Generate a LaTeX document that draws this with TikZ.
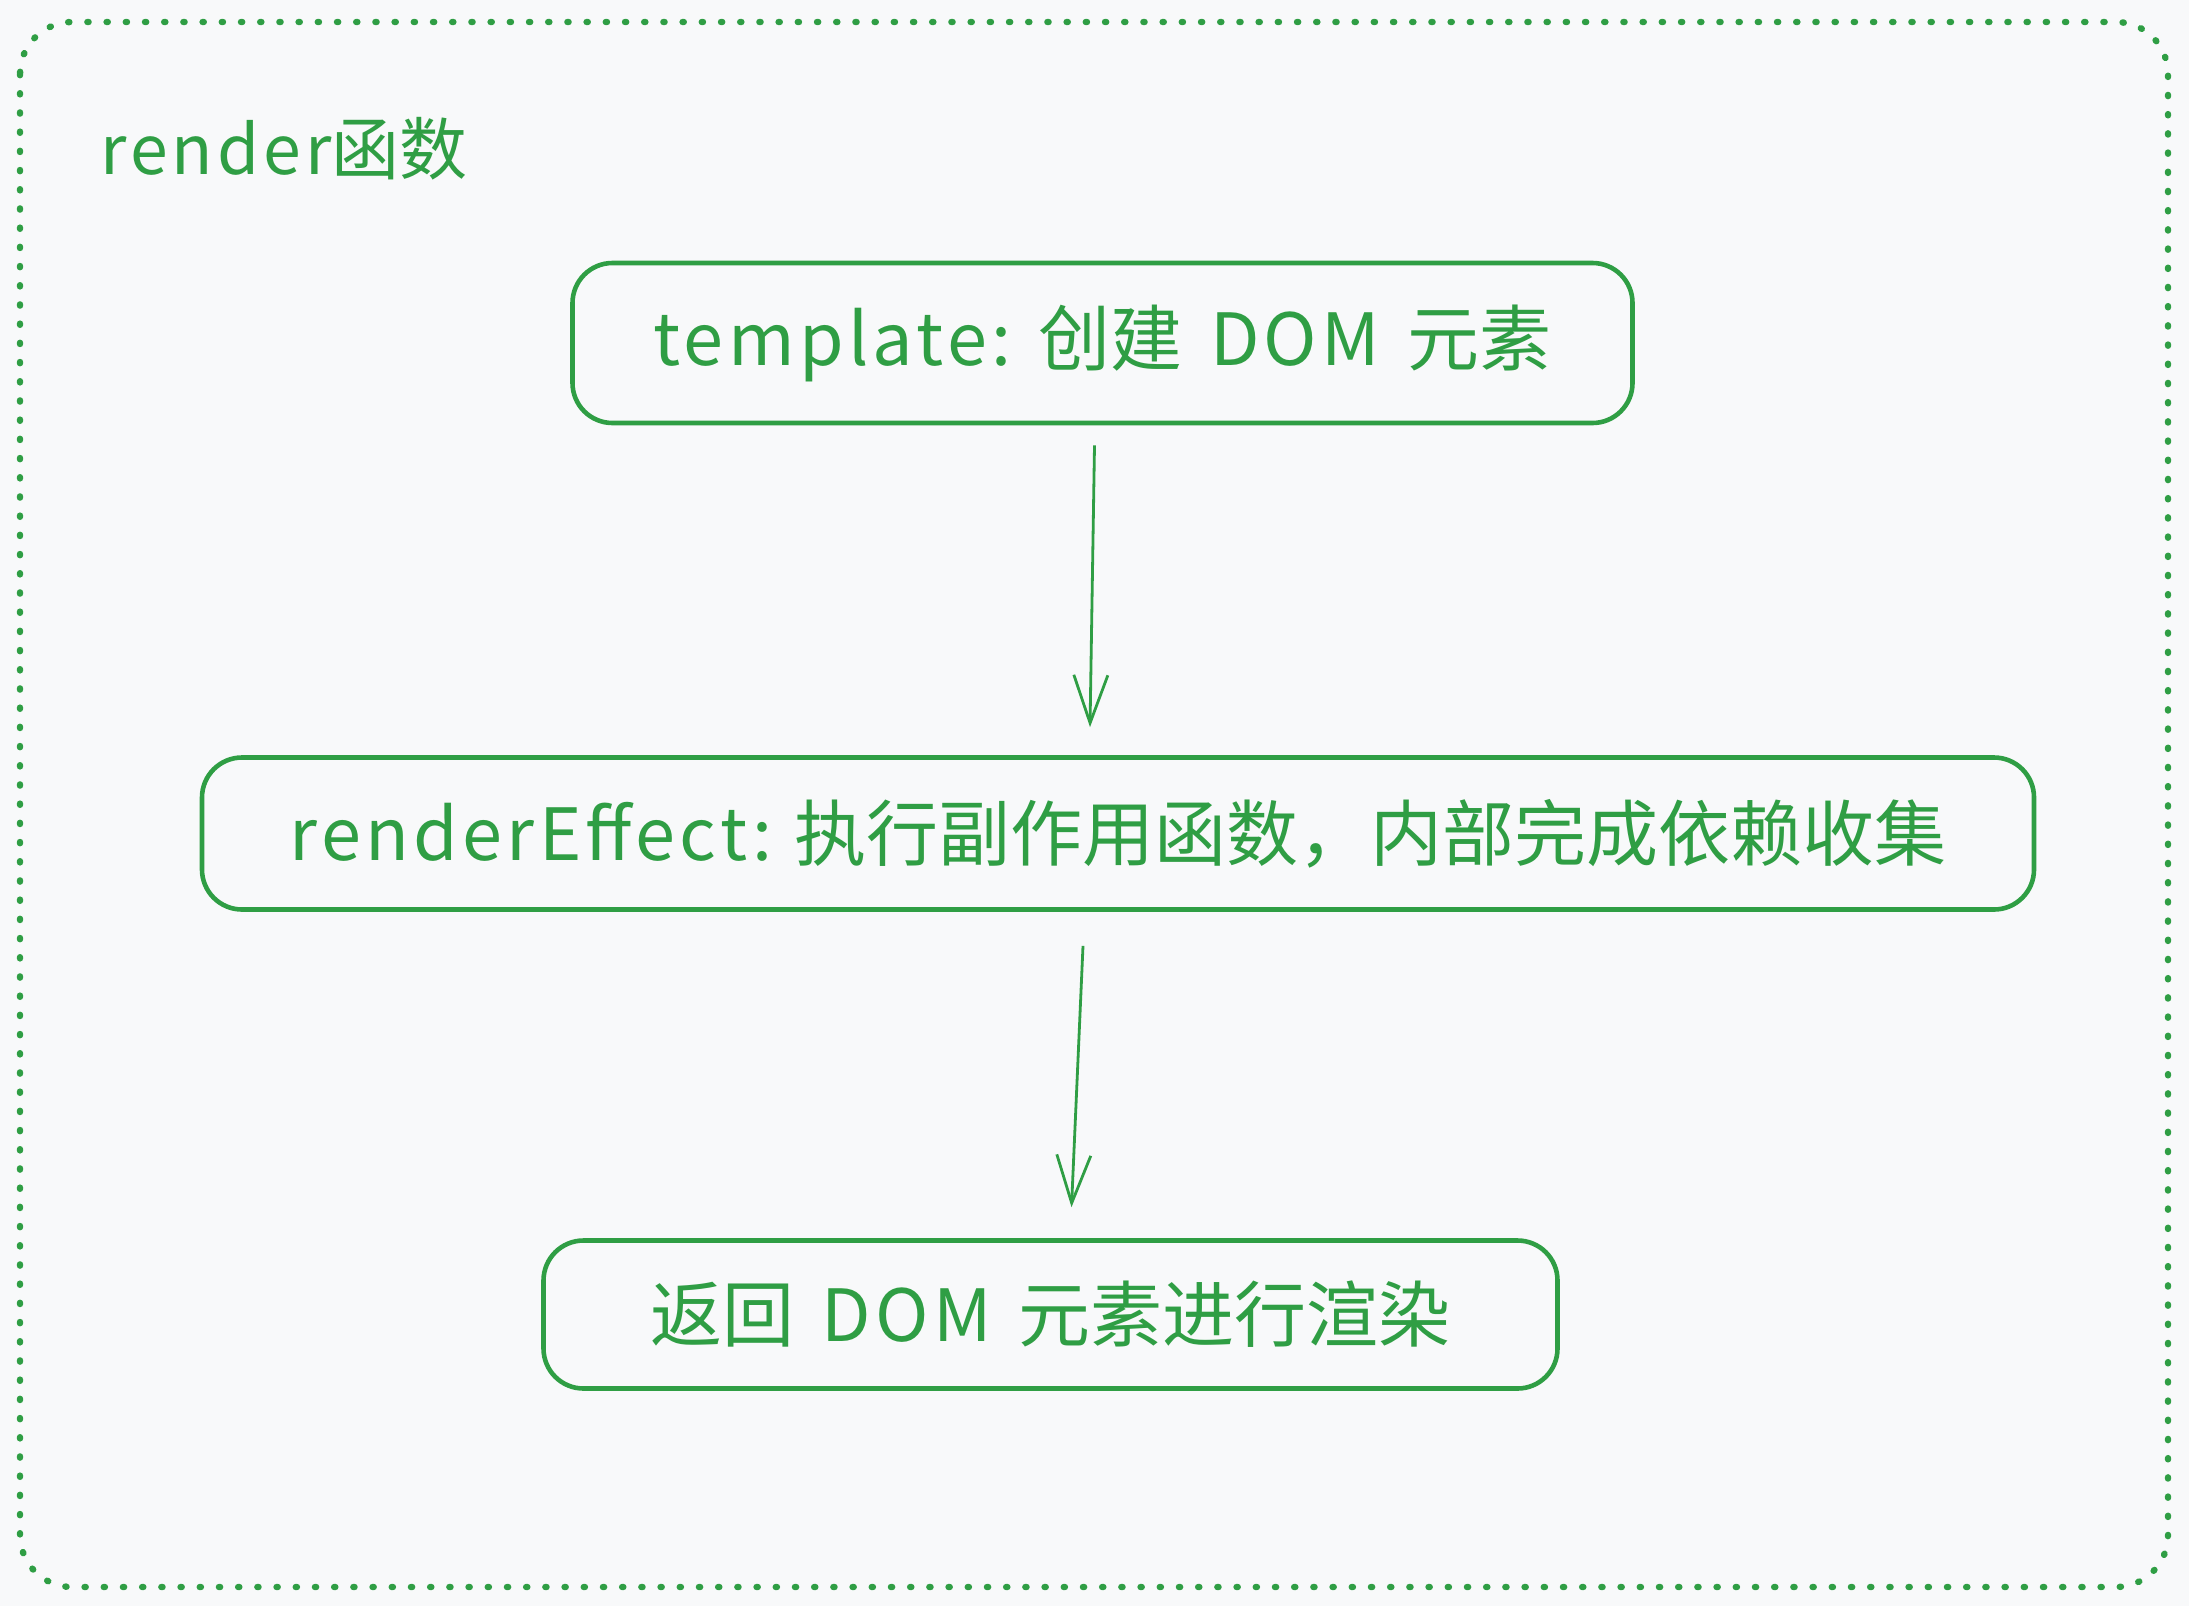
\documentclass[tikz,border=0pt]{standalone}
\usepackage{fontspec}
\setmainfont{Noto Sans CJK SC}
\usetikzlibrary{arrows.meta}
\definecolor{exgreen}{HTML}{2F9E44}
\definecolor{bgc}{HTML}{F8F9FA}
\newcommand{\lsp}[1]{{\addfontfeature{LetterSpace=6}#1}}
\newcommand{\wsp}{\hspace{0.38em}}
\begin{document}
\begin{tikzpicture}[x=0.5pt,y=-0.5pt,
  stepbox/.style={draw=exgreen, line width=2.3pt, rounded corners=20pt, fill=bgc,
    text=exgreen, font=\fontsize{36}{43}\selectfont, inner sep=0pt},
  arr/.style={draw=exgreen, line width=1.4pt, -{Straight Barb[length=24pt,width=17pt,line width=1.4pt]}}]
\useasboundingbox (0,0) rectangle (2189,1606);
\fill[bgc] (0,0) rectangle (2189,1606);
\draw[exgreen, line width=3.2pt, line cap=round, dash pattern=on 0.6pt off 9pt, rounded corners=26pt]
  (20,22) rectangle (2168,1587);
\node[anchor=base west, text=exgreen, font=\fontsize{34}{40}\selectfont, inner sep=0pt] (title) at (100,174) {\lsp{render}函数};
\node[stepbox, minimum width=530pt, minimum height=80pt] (b1) at (1102.5,343) {\lsp{template:}\wsp 创建\wsp\lsp{DOM}\wsp 元素};
\node[stepbox, minimum width=916pt, minimum height=76pt] (b2) at (1118,833.5) {\lsp{renderEffect:}\hspace{0.3em}执行副作用函数，内部完成依赖收集};
\node[stepbox, minimum width=507pt, minimum height=74pt] (b3) at (1050.5,1314.5) {返回\wsp\lsp{DOM}\wsp 元素进行渲染};
\draw[arr] ([shift={(-8,20)}]b1.south) -- ([shift={(-28,-28)}]b2.north);
\draw[arr] ([shift={(-35,34)}]b2.south) -- ([shift={(21,-31)}]b3.north);
\end{tikzpicture}
\end{document}
